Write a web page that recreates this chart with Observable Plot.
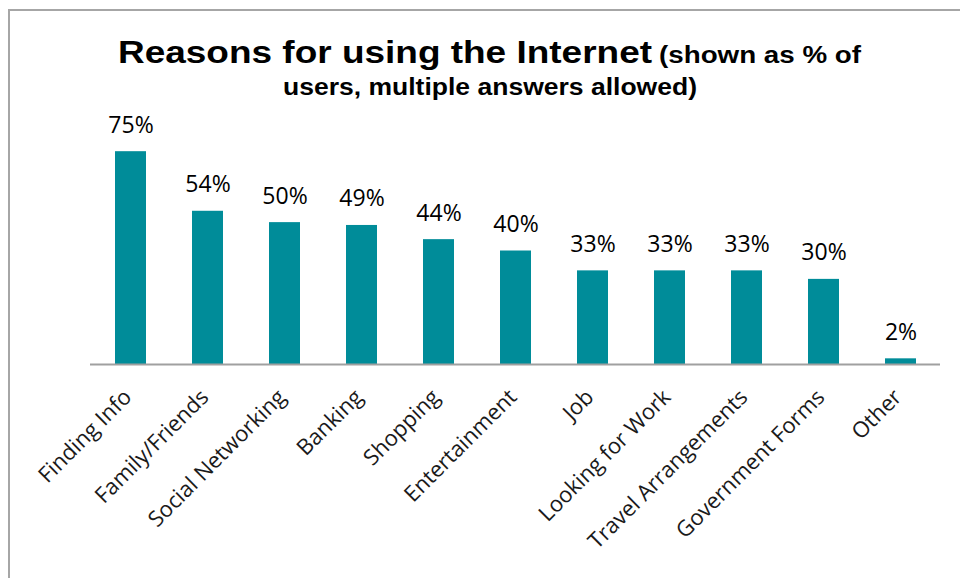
<!DOCTYPE html>
<html>
<head>
<meta charset="utf-8">
<script src="https://cdn.jsdelivr.net/npm/d3@7"></script>
<script src="https://cdn.jsdelivr.net/npm/@observablehq/plot@0.6"></script>
<style>
  html, body { margin: 0; padding: 0; background: #fff; }
  #page { position: relative; width: 960px; height: 578px; overflow: hidden; }
  #frame { position: absolute; left: 8px; top: 9px; width: 1000px; height: 600px;
           border-left: 2px solid #a6a6a6; border-top: 2px solid #a6a6a6; box-sizing: border-box; }
  #title { position: relative; height: 100px; font-family: "Liberation Sans", Arial, sans-serif;
           font-weight: bold; color: #000; }
  #title div { position: absolute; white-space: nowrap; transform-origin: 0 0; }
  #t1 { left: 118px; top: 36px; font-size: 32px; line-height: 32px; }
  #t2 { left: 659px; top: 43.5px; font-size: 23px; line-height: 23px; }
  #t3 { left: 283px; top: 75.5px; font-size: 23px; line-height: 23px; }
  #chart { position: relative; }
</style>
</head>
<body>
<div id="page">
  <div id="frame"></div>
  <div id="title">
    <div id="t1" data-w="534">Reasons for using the Internet</div>
    <div id="t2" data-w="202">(shown as % of</div>
    <div id="t3" data-w="414">users, multiple answers allowed)</div>
  </div>
  <div id="chart"></div>
</div>
<script>
const categories = ["Finding Info", "Family/Friends", "Social Networking", "Banking", "Shopping", "Entertainment", "Job", "Looking for Work", "Travel Arrangements", "Government Forms", "Other"];
const values = [75, 54, 50, 49, 44, 40, 33, 33, 33, 30, 2];
const valueLabels = ["75%", "54%", "50%", "49%", "44%", "40%", "33%", "33%", "33%", "30%", "2%"];

const data = categories.map((c, i) => ({category: c, value: values[i], label: valueLabels[i]}));
const font = "Open Sans, Lato, sans-serif";

// stretch the title lines horizontally to the reference widths
document.querySelectorAll("#title div").forEach(el => {
  const natural = el.getBoundingClientRect().width;
  const target = +el.dataset.w;
  if (natural > 0) el.style.transform = `scaleX(${target / natural})`;
});

const chart = Plot.plot({
  width: 960,
  height: 478,
  marginTop: 37,
  marginBottom: 214,
  marginLeft: 90,
  marginRight: 20,
  style: {fontFamily: font, background: "transparent", overflow: "visible"},
  x: {domain: categories, paddingInner: 0.6, paddingOuter: 0.3, label: null},
  y: {domain: [0, 80], axis: null},
  marks: [
    Plot.barY(data, {x: "category", y: "value", fill: "#008c99"}),
    Plot.ruleY([0], {stroke: "#a0a0a0", strokeWidth: 2}),
    Plot.text(data, {x: "category", y: "value", text: "label", dy: -19, lineAnchor: "bottom",
                     fontSize: 23, fill: "#000", fontFamily: font}),
    Plot.axisX({tickSize: 0, tickRotate: -45, tickPadding: 29, dx: -3, fontSize: 22, fill: "#1a1a1a",
                fontFamily: font, label: null})
  ]
});
document.getElementById("chart").appendChild(chart);
</script>
</body>
</html>
